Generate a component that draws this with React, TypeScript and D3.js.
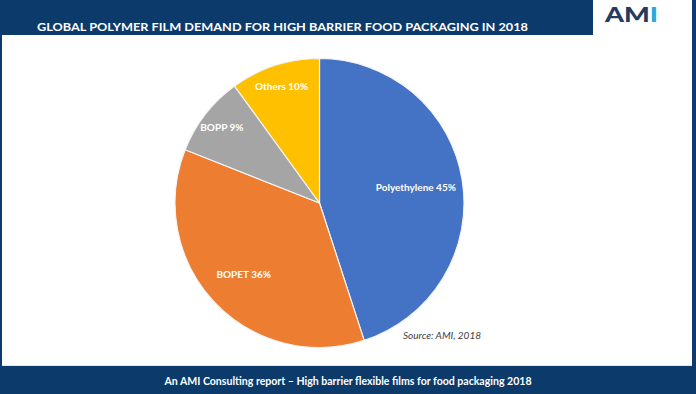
import React from 'react';
import * as d3 from 'd3';

const categories = ['Polyethylene', 'BOPET', 'BOPP', 'Others'];
const shares = [45, 36, 9, 10];
const sliceColors = ['#4472C4', '#ED7D31', '#A5A5A5', '#FFC000'];

const title = 'GLOBAL POLYMER FILM DEMAND FOR HIGH BARRIER FOOD PACKAGING IN 2018';
const footer = 'An AMI Consulting report \u2013 High barrier flexible films for food packaging 2018';
const source = 'Source: AMI, 2018';

const W = 696;
const H = 394;
const navy = '#0b3a6b';
const font = 'Lato, "Open Sans", sans-serif';

export default function App() {
  const cx = 319.5;
  const cy = 203;
  const R = 144.5;

  const data = categories.map((name, i) => ({ name, value: shares[i] }));
  const pie = d3.pie<{ name: string; value: number }>()
    .sort(null)
    .value(d => d.value)
    .startAngle(0)
    .endAngle(2 * Math.PI);
  const arcs = pie(data);
  const total = d3.sum(shares);

  const arc = d3.arc<d3.PieArcDatum<{ name: string; value: number }>>()
    .innerRadius(0)
    .outerRadius(R);

  // small slices push their labels further out, like Excel's best fit
  const labelPos = (a: d3.PieArcDatum<{ name: string; value: number }>) => {
    const frac = a.data.value / total;
    const r = R * (0.9 - 0.5 * frac);
    const lab = d3.arc<any>().innerRadius(r).outerRadius(r);
    return lab.centroid(a);
  };

  return (
    <svg width={W} height={H} style={{ position: 'absolute', left: 0, top: 0 }}>
      <rect x={0} y={0} width={W} height={H} fill={navy} />
      <rect x={2} y={35} width={690} height={331} fill="#ffffff" />
      <rect x={593} y={0} width={99} height={36} fill="#ffffff" />
      <line x1={2} x2={692} y1={365.5} y2={365.5} stroke="#dfe6ee" strokeWidth={1} />

      <text x={37} y={30.5} fill="#ffffff" fontFamily={font} fontWeight={700} fontSize={12}
        textLength={491} lengthAdjust="spacingAndGlyphs">{title}</text>

      <text x={605} y={22} fontFamily={font} fontWeight={900} fontSize={21}
        textLength={53} lengthAdjust="spacingAndGlyphs">
        <tspan fill="#253a5c">AM</tspan>
        <tspan fill="#2aa8d8">I</tspan>
      </text>

      <g transform={`translate(${cx},${cy})`}>
        {arcs.map((a, i) => (
          <path key={a.data.name} d={arc(a) || ''} fill={sliceColors[i]}
            stroke="#f4f4f4" strokeWidth={1.2} strokeLinejoin="round" />
        ))}
        {arcs.map(a => {
          const [x, y] = labelPos(a);
          return (
            <text key={a.data.name} x={x} y={y} dy="0.35em" textAnchor="middle"
              fill="#ffffff" fontFamily={font} fontWeight={700} fontSize={10}>
              {`${a.data.name} ${a.data.value}%`}
            </text>
          );
        })}
      </g>

      <text x={403} y={339} fill="#404040" fontFamily={font} fontStyle="italic" fontSize={10}
        textLength={78} lengthAdjust="spacingAndGlyphs">{source}</text>

      <text x={W / 2} y={385} textAnchor="middle" fill="#ffffff" fontFamily={font} fontWeight={700}
        fontSize={11} textLength={367} lengthAdjust="spacingAndGlyphs">{footer}</text>
    </svg>
  );
}
